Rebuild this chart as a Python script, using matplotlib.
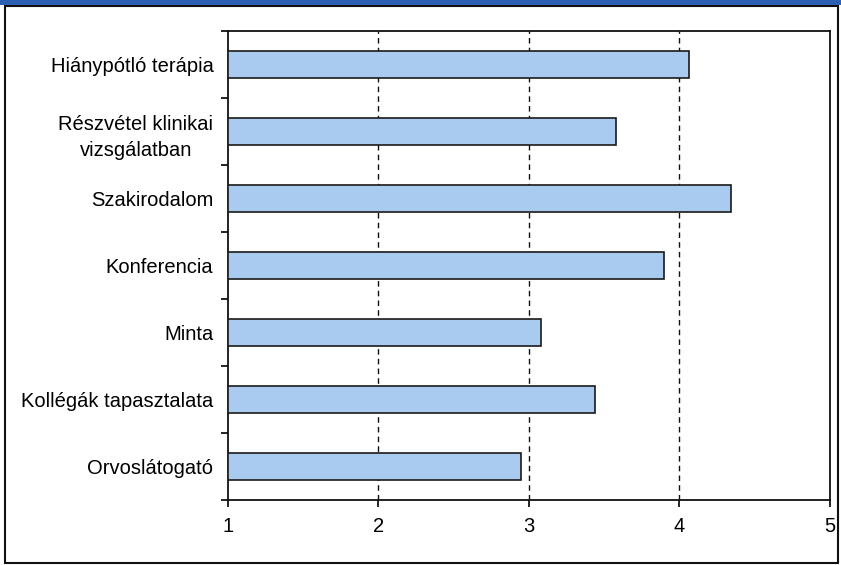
import matplotlib.pyplot as plt
from matplotlib.patches import Rectangle
import numpy as np

# Categories (top to bottom) and mean scores
categories = ['Hiánypótló terápia', 'Részvétel klinikai\nvizsgálatban', 'Szakirodalom',
              'Konferencia', 'Minta', 'Kollégák tapasztalata', 'Orvoslátogató']
scores = [4.06, 3.58, 4.34, 3.90, 3.08, 3.44, 2.95]
xticks = [1, 2, 3, 4, 5]

plt.rcParams['font.family'] = ['Liberation Sans', 'DejaVu Sans']

fig = plt.figure(figsize=(8.41, 5.65), dpi=100)
ax = fig.add_axes([0.2711, 0.115, 0.7158, 0.8301])

y = np.arange(len(categories))
ax.barh(y, np.array(scores) - 1, left=1, height=0.4,
        color='#a9cbf0', edgecolor='#1a1a1a', linewidth=1.2, zorder=3)

ax.set_xlim(1, 5)
ax.set_ylim(len(categories) - 0.5, -0.5)
ax.set_xticks(xticks)
ax.set_xticklabels([str(t) for t in xticks], fontsize=14.5)
ax.set_yticks(y)
ax.set_yticklabels(categories, fontsize=14.5, multialignment='center', linespacing=1.5)
ax.set_yticks(np.arange(len(categories) + 1) - 0.5, minor=True)
ax.tick_params(axis='y', which='major', length=0, pad=10.5)
ax.tick_params(axis='y', which='minor', length=5, width=1.2, direction='out')
ax.tick_params(axis='x', length=5, width=1.2, direction='out', pad=7)

for g in [2, 3, 4]:
    ax.axvline(g, color='#111111', linestyle=(0, (4, 3)), linewidth=1.0, zorder=1)

for s in ax.spines.values():
    s.set_linewidth(1.3)
    s.set_color('#111111')

# outer frame and blue header strip
fig.patches.append(Rectangle((0.006, 0.004), 0.99, 0.985, transform=fig.transFigure,
                             fill=False, edgecolor='#111111', linewidth=1.5))
fig.patches.append(Rectangle((0, 0.991), 1, 0.009, transform=fig.transFigure,
                             facecolor='#2d5fb3', edgecolor='none'))

plt.savefig('out.png', dpi=100)
